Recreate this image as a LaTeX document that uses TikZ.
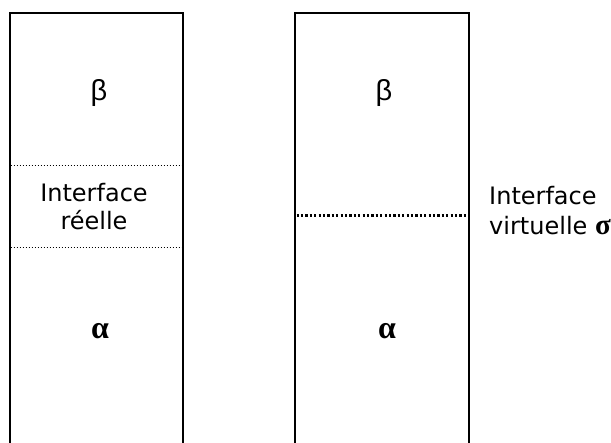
\documentclass[tikz,border=0pt]{standalone}
\usepackage{fontspec}
\setmainfont{DejaVu Sans}
\newfontfamily\greeksans{Liberation Sans}
\newfontfamily\greekserif{Liberation Serif}
\begin{document}
\begin{tikzpicture}[x=1pt,y=-1pt,
  wall/.style={line width=2pt,line cap=rect},
  thinfront/.style={line width=1pt,dash pattern=on 1pt off 2pt},
  thickfront/.style={line width=2.2pt,dash pattern=on 2.2pt off 2.2pt},
  phase/.style={inner sep=0pt,font=\fontsize{29}{34}\selectfont},
  heavy/.style={inner sep=0pt,font=\fontsize{32}{36}\selectfont\greekserif\bfseries},
  lbl/.style={inner sep=0pt,font=\fontsize{24}{29}\selectfont}]
\useasboundingbox (0,0) rectangle (611,443);
% left column: two phases separated by a real interface layer
\draw[wall] (9.5,450) -- (9.5,12.7) -- (183,12.7) -- (183,450);
\draw[thinfront] (10.5,165.5) -- (182,165.5);
\draw[thinfront] (10.5,248) -- (182,248);
\node[phase] (bl) at (99,93) {\greeksans β};
\node[heavy] (al) at (100,331) {α};
\node[lbl,anchor=base] (il) at (94,201.5) {Interface};
\node[lbl,anchor=base] (rl) at (94,230) {réelle};
% right column: the interface reduced to a dividing surface
\draw[wall] (295,450) -- (295,12.7) -- (469,12.7) -- (469,450);
\draw[thickfront] (296.5,215.5) -- (468,215.5);
\node[phase] (br) at (384,93) {\greeksans β};
\node[heavy] (ar) at (387,331) {α};
\node[lbl,anchor=base west] (ir) at (489,205) {Interface};
\node[lbl,anchor=base west] (vr) at (489,235) {virtuelle {\fontsize{29}{29}\selectfont\greekserif\bfseries σ}};
\end{tikzpicture}
\end{document}
